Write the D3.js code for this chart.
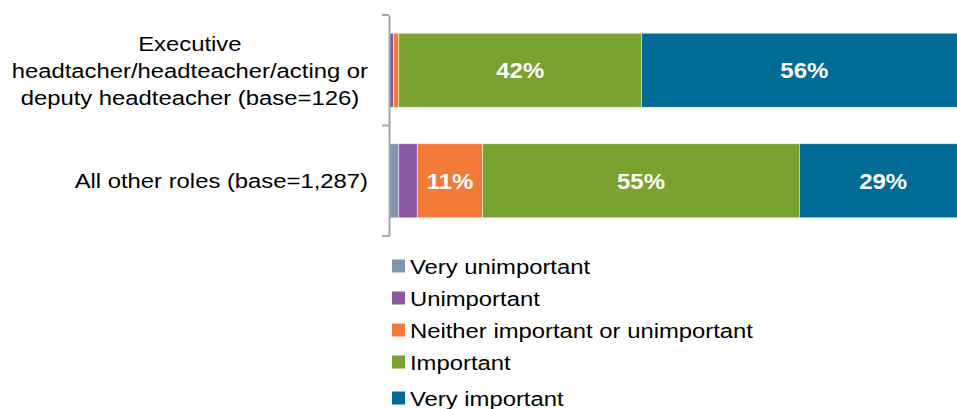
<!DOCTYPE html>
<html>
<head>
<meta charset="utf-8">
<script src="https://cdn.jsdelivr.net/npm/d3@7/dist/d3.min.js"></script>
<style>
  html, body { margin: 0; padding: 0; background: #fff; }
  svg { display: block; font-family: "Liberation Sans", Arial, sans-serif; }
</style>
</head>
<body>
<svg id="chart" width="957" height="409"></svg>
<script>
// ---- data ----
const categories = [
  "Executive\nheadtacher/headteacher/acting or\ndeputy headteacher (base=126)",
  "All other roles (base=1,287)"
];
const seriesNames = ["Very unimportant", "Unimportant", "Neither important or unimportant", "Important", "Very important"];
const veryUnimportant = [0.0, 1.7];
const unimportant = [0.8, 3.2];
const neither = [0.9, 11.3];
const important = [42.0, 54.8];
const veryImportant = [56.3, 29.0];
const colors = ["#8096af", "#8a58a3", "#f37b37", "#79a22f", "#006b97"];

const seriesValues = [veryUnimportant, unimportant, neither, important, veryImportant];
const rows = categories.map((c, i) => {
  const r = { cat: c };
  seriesNames.forEach((s, j) => r[s] = seriesValues[j][i]);
  return r;
});

const SX = 1.135; // horizontal stretch of the reference's text

const svg = d3.select("#chart");
const x = d3.scaleLinear().domain([0, 100]).range([389, 967]);
const y = d3.scaleBand().domain(categories).range([15, 236]).paddingInner(0.33).paddingOuter(0.165);

const stack = d3.stack().keys(seriesNames)(rows);

const g = svg.append("g");
stack.forEach((layer, j) => {
  g.selectAll(null).data(layer).enter().append("rect")
    .attr("x", d => x(d[0]))
    .attr("width", d => Math.max(0, x(d[1]) - x(d[0])))
    .attr("y", d => y(d.data.cat))
    .attr("height", y.bandwidth())
    .attr("fill", colors[j])
    .attr("stroke", "rgba(255,255,255,0.6)")
    .attr("stroke-width", 0.8);
  g.selectAll(null).data(layer.filter(d => d[1] - d[0] >= 5)).enter().append("g")
    .attr("transform", d => `translate(${(x(d[0]) + x(d[1])) / 2},${y(d.data.cat) + y.bandwidth() / 2}) scale(1.09,1)`)
    .append("text")
    .attr("dy", "0.36em")
    .attr("text-anchor", "middle")
    .attr("fill", "#fff")
    .attr("font-weight", "bold")
    .attr("font-size", "22px")
    .text(d => Math.round(d[1] - d[0]) + "%");
});

// axis
const axis = d3.axisLeft(y).tickSize(0).tickPadding(21);
const ax = svg.append("g").attr("transform", "translate(389,0)").call(axis);
ax.select(".domain").attr("stroke", "#a6a6a6").attr("stroke-width", 2);
const mid = (y(categories[0]) + y.bandwidth() + y(categories[1])) / 2;
ax.selectAll(".btick").data([y.range()[0], mid, y.range()[1]]).enter().append("line")
  .attr("x1", -7).attr("x2", 0).attr("y1", d => d).attr("y2", d => d)
  .attr("stroke", "#a6a6a6").attr("stroke-width", 2);

ax.selectAll(".tick text").each(function(d) {
  const t = d3.select(this);
  const lines = d.split("\n");
  t.text(null).attr("font-size", "21px").attr("fill", "#000")
   .attr("font-family", "Liberation Sans, Arial, sans-serif")
   .attr("transform", `scale(${SX},1)`);
  const n = lines.length;
  const lh = 27;
  const tsp = lines.map((l, i) => t.append("tspan").attr("y", (i - (n - 1) / 2) * lh).attr("dy", "0.36em").text(l));
  const widths = tsp.map(s => s.node().getComputedTextLength());
  const maxW = d3.max(widths);
  t.attr("text-anchor", "middle");
  tsp.forEach(s => s.attr("x", (-21 - maxW * SX / 2) / SX));
});

// legend
const legendY = [266, 298, 330, 362, 398];
const lg = svg.append("g");
seriesNames.forEach((s, i) => {
  const cy = legendY[i];
  lg.append("rect").attr("x", 392).attr("y", cy - 6.5).attr("width", 13).attr("height", 13).attr("fill", colors[i]);
  lg.append("g").attr("transform", `translate(410,${cy}) scale(${SX},1)`)
    .append("text").attr("dy", "0.36em")
    .attr("font-size", "21px").attr("fill", "#000").text(s);
});
</script>
</body>
</html>
